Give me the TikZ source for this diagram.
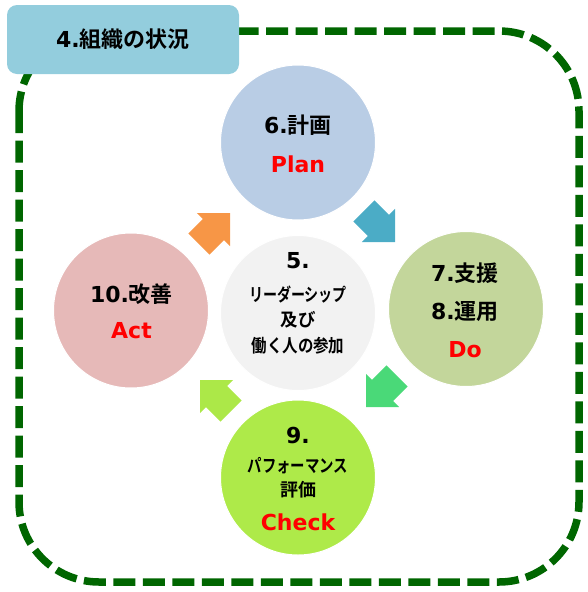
\documentclass[tikz,border=0pt]{standalone}
\usepackage{fontspec}
\usepackage{graphicx}
\setmainfont{DejaVu Sans}
\newfontfamily\jp{Noto Sans CJK JP}[BoldFont={Noto Sans CJK JP Bold}]
\definecolor{labelC}{RGB}{147,205,221}
\definecolor{planC}{RGB}{185,205,229}
\definecolor{doC}{RGB}{195,214,155}
\definecolor{checkC}{RGB}{174,234,73}
\definecolor{actC}{RGB}{230,185,184}
\definecolor{centC}{RGB}{242,242,242}
\definecolor{arrOrange}{RGB}{247,150,70}
\definecolor{arrTeal}{RGB}{75,172,198}
\definecolor{arrGreen}{RGB}{74,217,120}
\definecolor{arrLime}{RGB}{172,232,72}
\definecolor{dashG}{RGB}{0,102,0}
\newcommand{\J}[1]{{\jp #1}}
\newcommand{\JS}[2]{\scalebox{#1}[1]{\jp #2}}
\begin{document}
\begin{tikzpicture}[x=1pt,y=-1pt,
  circ/.style={circle,minimum size=155pt,inner sep=0pt,draw=white,line width=1pt},
  txt/.style={inner sep=0pt,font=\bfseries\fontsize{22}{24}\selectfont},
  redtxt/.style={txt,text=red},
  smalltxt/.style={inner sep=0pt,font=\bfseries\fontsize{18}{20}\selectfont},
  labelbox/.style={fill=labelC,rounded corners=10pt,minimum width=232pt,minimum height=69pt,inner sep=0pt,font=\bfseries\fontsize{22}{24}\selectfont},
  dashline/.style={draw=dashG,line width=7.5pt,dash pattern=on 22pt off 7.5pt,rounded corners=80pt},
  blockarrow/.style={fill=#1}
]
\useasboundingbox (0,0) rectangle (588,592);
% dashed frame
\draw[dashline] (19,31) rectangle (579,582);
% label box
\node[labelbox] (org) at (123,39.5) {4.\J{組織の状況}};
% circles
\node[circ,fill=planC] (plan) at (298,142.5) {};
\node[circ,fill=doC] (do) at (466,309) {};
\node[circ,fill=checkC] (check) at (298,477.5) {};
\node[circ,fill=actC] (act) at (131,310.5) {};
\node[circ,fill=centC] (cent) at (298,313) {};
% arrows
\coordinate (tipTeal) at (395,242);
\coordinate (tipGreen) at (366,407);
\coordinate (tipLime) at (200,380);
\coordinate (tipOrange) at (230,213);
\path[blockarrow=arrTeal,shift={(tipTeal)},rotate=-45] (0,0) -- (-23.5,23.5) -- (-23.5,15) -- (-44,15) -- (-44,-15) -- (-23.5,-15) -- (-23.5,-23.5) -- cycle;
\path[blockarrow=arrGreen,shift={(tipGreen)},rotate=-135] (0,0) -- (-23.5,23.5) -- (-23.5,15) -- (-44,15) -- (-44,-15) -- (-23.5,-15) -- (-23.5,-23.5) -- cycle;
\path[blockarrow=arrLime,shift={(tipLime)},rotate=135] (0,0) -- (-23.5,23.5) -- (-23.5,15) -- (-44,15) -- (-44,-15) -- (-23.5,-15) -- (-23.5,-23.5) -- cycle;
\path[blockarrow=arrOrange,shift={(tipOrange)},rotate=45] (0,0) -- (-23.5,23.5) -- (-23.5,15) -- (-44,15) -- (-44,-15) -- (-23.5,-15) -- (-23.5,-23.5) -- cycle;
% texts
\node[txt] (planA) at (298,125.5) {6.\J{計画}};
\node[redtxt] (planB) at (298,164.5) {Plan};
\node[txt] (doA) at (465,273) {7.\J{支援}};
\node[txt] (doB) at (465,311.7) {8.\J{運用}};
\node[redtxt] (doC) at (465,350) {Do};
\node[txt] (actA) at (131.5,294) {10.\J{改善}};
\node[redtxt] (actB) at (131.5,330.5) {Act};
\node[txt] (centA) at (298,261) {5.};
\node[smalltxt] (centB) at (298,295) {\JS{0.78}{リーダーシップ}};
\node[smalltxt] (centC) at (298,320) {\JS{0.97}{及び}};
\node[smalltxt] (centD) at (298,346) {\JS{0.86}{働く人の参加}};
\node[txt] (checkA) at (298,435) {9.};
\node[smalltxt] (checkB) at (298,466) {\JS{0.8}{パフォーマンス}};
\node[smalltxt] (checkC) at (298,489.5) {\JS{1.0}{評価}};
\node[redtxt] (checkD) at (298,522) {Check};
\end{tikzpicture}
\end{document}
